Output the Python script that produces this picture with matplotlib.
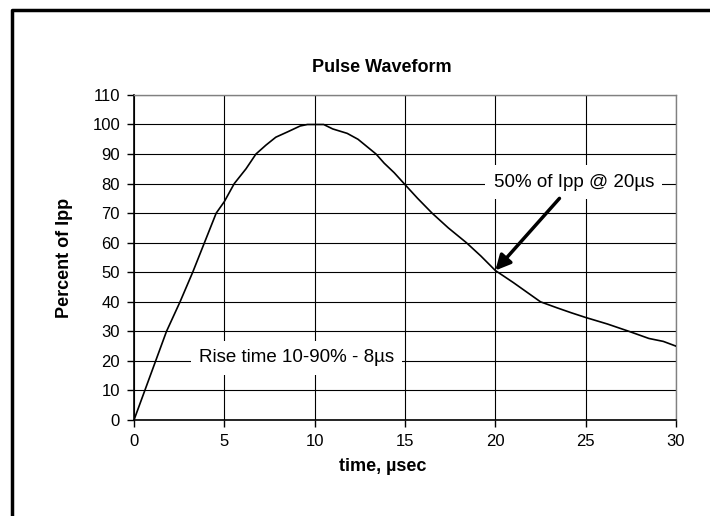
import numpy as np
import matplotlib
matplotlib.use("Agg")
import matplotlib.pyplot as plt
from matplotlib.lines import Line2D

plt.rcParams['font.family'] = ['Liberation Sans', 'DejaVu Sans']

# ---------- DATA ----------
time_us = [0, 0.6, 1.2, 1.8, 2.55, 3.25, 3.9, 4.55, 5, 5.55, 6.2, 6.75, 7.3, 7.85, 8.5,
           9.2, 9.6, 10.5, 11.0, 11.8, 12.4, 12.9, 13.4, 13.85, 14.4, 14.95, 15.7, 16.5,
           17.4, 18.4, 19.2, 20.0, 21.0, 22.5, 23.4, 24.2, 25.0, 26.2, 27.4, 28.5, 29.3, 30]
percent_ipp = [0, 10, 20, 30, 40, 50, 60, 70, 73.9, 80, 85, 90, 93, 95.7, 97.5,
               99.5, 100, 100, 98.5, 97, 95, 92.5, 90, 86.9, 83.7, 80, 75, 70,
               65, 60, 55.5, 50.6, 46.5, 40, 38, 36.3, 34.7, 32.5, 30, 27.6, 26.6, 25]
x_ticks = [0, 5, 10, 15, 20, 25, 30]
y_ticks = list(range(0, 111, 10))

rise_label = 'Rise time 10-90% - 8µs'
half_label = '50% of Ipp @ 20µs'

# ---------- PLOT ----------
fig = plt.figure(figsize=(7.1, 5.16), dpi=100)
ax = fig.add_axes([0.1887, 0.186, 0.7634, 0.630])

ax.set_xlim(0, 30)
ax.set_ylim(0, 110)
ax.set_xticks(x_ticks)
ax.set_yticks(y_ticks)
ax.grid(True, color='black', linewidth=0.8)
ax.set_axisbelow(True)

ax.plot(time_us, percent_ipp, color='black', linewidth=1.2, zorder=3)

for side in ['top', 'right']:
    ax.spines[side].set_color('#808080')
    ax.spines[side].set_linewidth(1.0)
for side in ['left', 'bottom']:
    ax.spines[side].set_color('black')
    ax.spines[side].set_linewidth(1.2)

ax.tick_params(direction='out', length=5, width=1, labelsize=12, pad=5)

# annotations
ax.text(9.0, 21, rise_label, fontsize=13.5, ha='center', va='center', zorder=4,
        bbox=dict(facecolor='white', edgecolor='none', pad=6))
ax.text(24.35, 80.5, half_label, fontsize=13.5, ha='center', va='center', zorder=4,
        bbox=dict(facecolor='white', edgecolor='none', pad=6))
ax.annotate('', xy=(20, 50.6), xytext=(23.55, 75), zorder=5,
            arrowprops=dict(arrowstyle='-|>,head_width=0.45,head_length=0.9',
                            color='black', linewidth=2.5, shrinkA=0, shrinkB=0))

fig.text(0.538, 0.870, 'Pulse Waveform', fontsize=13, fontweight='bold', ha='center', va='center')
fig.text(0.539, 0.095, 'time, µsec', fontsize=13, fontweight='bold', ha='center', va='center')
fig.text(0.0915, 0.501, 'Percent of Ipp', fontsize=13, fontweight='bold', ha='center', va='center',
         rotation=90)

# chart border (only left and top visible in the reference)
fig.add_artist(Line2D([0.017, 0.017, 1.0], [0.0, 0.981, 0.981], transform=fig.transFigure,
                      color='black', linewidth=2.5))

fig.savefig('out.png', dpi=100)
